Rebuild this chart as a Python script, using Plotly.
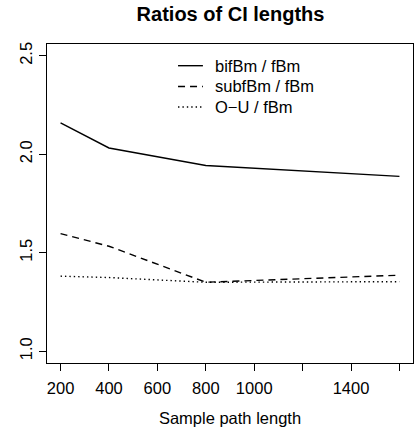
import plotly.graph_objects as go

sample_length = [200, 400, 800, 1600]
bifbm_ratio = [2.159, 2.032, 1.943, 1.888]
subfbm_ratio = [1.597, 1.533, 1.350, 1.386]
ou_ratio = [1.381, 1.374, 1.350, 1.353]

series_names = ["bifBm / fBm", "subfBm / fBm", "O\u2212U / fBm"]
series_dash = ["solid", "7px,5px", "1.4px,3px"]

x_ticks = [200, 400, 600, 800, 1000, 1200, 1400, 1600]
x_ticktext = ["200", "400", "600", "800", "1000", "", "1400", ""]
y_ticks = [1.0, 1.5, 2.0, 2.5]
y_ticktext = ["1.0", "1.5", "2.0", "2.5"]

FONT = "Liberation Sans, Arial, sans-serif"
FS = 16.5
fig = go.Figure()
for name, vals, dash in zip(series_names, [bifbm_ratio, subfbm_ratio, ou_ratio], series_dash):
    fig.add_trace(go.Scatter(x=sample_length, y=vals, mode="lines", name=name,
                             line=dict(color="black", width=1.4, dash=dash),
                             showlegend=False, hoverinfo="skip"))

# legend drawn in R style
leg_y = [0.932, 0.867, 0.8025]
for name, dash, yy in zip(series_names, series_dash, leg_y):
    fig.add_shape(type="line", xref="paper", yref="paper", x0=0.358, x1=0.426, y0=yy, y1=yy,
                  line=dict(color="black", width=1.4, dash=dash))
    fig.add_annotation(xref="paper", yref="paper", x=0.4536, y=yy, text=name, showarrow=False,
                       xanchor="left", yanchor="middle", font=dict(family=FONT, size=FS, color="black"))

fig.update_layout(
    width=415, height=429,
    margin=dict(l=47, r=2, t=44, b=66),
    paper_bgcolor="white", plot_bgcolor="white",
    font=dict(family=FONT, size=FS, color="black"),
    title=dict(text="<b>Ratios of CI lengths</b>", x=230.5 / 415, xanchor="center",
               y=1 - 14 / 429, yanchor="middle", font=dict(family=FONT, size=20, color="black")),
)
fig.update_xaxes(range=[144, 1656], tickmode="array", tickvals=x_ticks, ticktext=x_ticktext,
                 ticks="outside", ticklen=7, tickcolor="black", tickwidth=1,
                 showline=True, linecolor="black", linewidth=1, mirror=True,
                 showgrid=False, zeroline=False, ticklabelstandoff=3,
                 title=dict(text="Sample path length", standoff=16, font=dict(size=FS)))
fig.update_yaxes(range=[0.94, 2.56], tickmode="array", tickvals=y_ticks, ticktext=y_ticktext,
                 ticks="outside", ticklen=7, tickcolor="black", tickwidth=1, tickangle=-90,
                 showline=True, linecolor="black", linewidth=1, mirror=True,
                 showgrid=False, zeroline=False, ticklabelstandoff=0)
fig.write_html("out.html", config={"displayModeBar": False},
               post_script="document.body.style.margin='0';")
